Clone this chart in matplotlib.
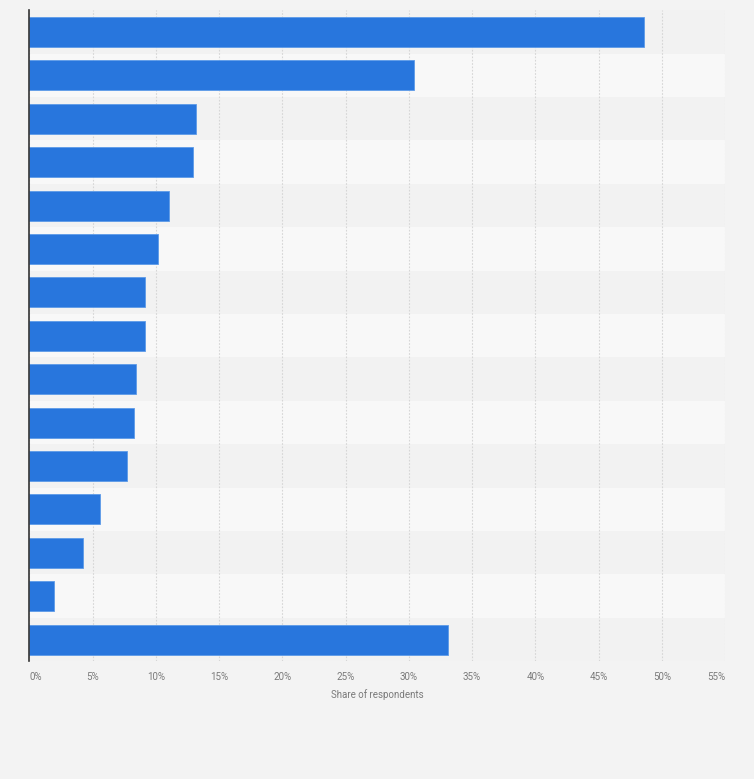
import matplotlib.pyplot as plt
import numpy as np

# Share of respondents per answer (top to bottom), in percent
shares = [48.6, 30.4, 13.2, 12.9, 11.0, 10.2, 9.1, 9.1, 8.4, 8.3, 7.7, 5.6, 4.2, 1.9, 33.1]
tick_values = [0, 5, 10, 15, 20, 25, 30, 35, 40, 45, 50, 55]
tick_labels = [f"{v}%" for v in tick_values]

plt.rcParams['font.family'] = ['Liberation Sans Narrow', 'Roboto', 'DejaVu Sans']

fig = plt.figure(figsize=(7.54, 7.79), dpi=100, facecolor='#f3f3f3')
ax = fig.add_axes([0.0391, 0.1511, 0.9224, 0.8357])
ax.set_facecolor('#f3f3f3')

n = len(shares)
y = np.arange(n)

# alternating row bands
for i in range(n):
    ax.axhspan(i - 0.5, i + 0.5, color='#f2f2f2' if i % 2 == 0 else '#f8f8f8', zorder=0, lw=0)

ax.barh(y, shares, height=0.69, color='#2876dd', edgecolor='#5d9be8', linewidth=0.6, zorder=3)

ax.set_ylim(n - 0.5, -0.5)
ax.set_xlim(0, 55)
ax.set_yticks([])
ax.set_xticks(tick_values)
ax.set_xticklabels(tick_labels, fontsize=7, color='#7a7a7a')
lbls = ax.get_xticklabels()
lbls[0].set_horizontalalignment('left')
lbls[-1].set_horizontalalignment('right')
ax.tick_params(axis='x', length=0, pad=8)
ax.grid(axis='x', color='#d6d6d6', linestyle=(0, (1.5, 1.5)), linewidth=0.8, zorder=1)

for s in ['top', 'right', 'bottom']:
    ax.spines[s].set_visible(False)
ax.spines['left'].set_color('#333333')
ax.spines['left'].set_linewidth(1.2)
ax.spines['left'].set_zorder(4)

ax.set_xlabel('Share of respondents', fontsize=7, color='#7a7a7a', labelpad=5)

fig.savefig('out.png', dpi=100, facecolor=fig.get_facecolor())
